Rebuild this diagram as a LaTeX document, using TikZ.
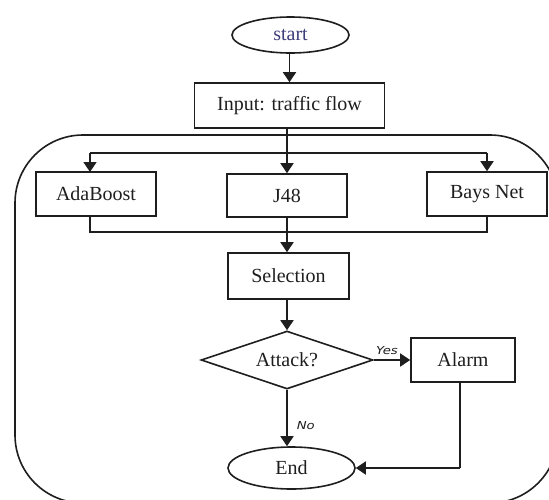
\documentclass[tikz,border=0pt]{standalone}
\usepackage{fontspec}
\setmainfont{Liberation Serif}
\newfontfamily\lblfont[FakeStretch=1.2]{DejaVu Sans}
\usetikzlibrary{shapes.geometric,arrows.meta}
\definecolor{ink}{HTML}{1E1E1E}
\definecolor{startink}{HTML}{3E3E7A}
\tikzset{
  line/.style={draw=ink, line width=1.7pt},
  arr/.style={line, -{Triangle[length=10pt,width=13pt]}},
  boxnode/.style={draw=ink, line width=1.6pt, rectangle, inner sep=0pt, text=ink,
    font=\fontsize{20}{24}\selectfont},
  ovalnode/.style={draw=ink, line width=1.6pt, ellipse, inner sep=0pt, text=ink,
    font=\fontsize{20}{24}\selectfont},
  decnode/.style={draw=ink, line width=1.6pt, diamond, aspect=2.97, inner sep=0pt, text=ink,
    font=\fontsize{20}{24}\selectfont},
  lbl/.style={text=ink, inner sep=0pt, font=\lblfont\itshape\fontsize{11}{13}\selectfont}
}
\begin{document}
\begin{tikzpicture}[x=1pt,y=-1pt]
\useasboundingbox (0,0) rectangle (549,499);
\begin{scope}
\clip (0,0) rectangle (549,499);
\draw[line, line width=1.6pt, rounded corners=68pt] (15,135) rectangle (558,503);
\end{scope}

\node[ovalnode, minimum width=117pt, minimum height=36pt, text=startink] (start) at (290.5,35) {start};
\node[boxnode, minimum width=190pt, minimum height=45pt] (input) at (289.5,105.5) {Input: traffic flow};
\node[boxnode, minimum width=120pt, minimum height=44pt] (ada) at (96,194) {AdaBoost};
\node[boxnode, minimum width=120pt, minimum height=43pt] (j48) at (287,195.5) {J48};
\node[boxnode, minimum width=120pt, minimum height=44pt] (bays) at (487,194) {Bays Net};
\node[boxnode, minimum width=121pt, minimum height=46pt] (sel) at (288.5,276) {Selection};
\node[decnode, minimum width=172pt, minimum height=58pt] (att) at (287,360) {Attack?};
\node[boxnode, minimum width=104pt, minimum height=44pt] (alarm) at (463,360) {Alarm};
\node[ovalnode, minimum width=127pt, minimum height=42pt] (end) at (291.5,468) {End};

\coordinate (dl) at (90,153);
\coordinate (dr) at (487,153);
\coordinate (cl) at (90,232);
\coordinate (cr) at (487,232);
\coordinate (adatop) at (90,172);
\coordinate (adabot) at (90,216);
\coordinate (ac) at (460,468);

\draw[arr] (start.south -| input.north) -- (input.north);
\draw[arr] (input.south -| j48.north) -- (j48.north);
\draw[line] (dl) -- (dr);
\draw[arr] (dl) -- (adatop);
\draw[arr] (dr) -- (bays.north);
\draw[line] (adabot) -- (cl) -- (cr) -- (bays.south);
\draw[arr] (j48.south) -- (j48.south |- sel.north);
\draw[arr] (sel.south -| att.north) -- (att.north);
\draw[arr] (att.east) -- node[lbl, above=5pt, xshift=-5pt] {Yes} (alarm.west);
\draw[arr] (att.south) -- node[lbl, right=9pt, yshift=-8pt] {No} (end.north -| att.south);
\draw[line] (alarm.south -| ac) -- (ac);
\draw[arr] (ac) -- (end.east);
\end{tikzpicture}
\end{document}
